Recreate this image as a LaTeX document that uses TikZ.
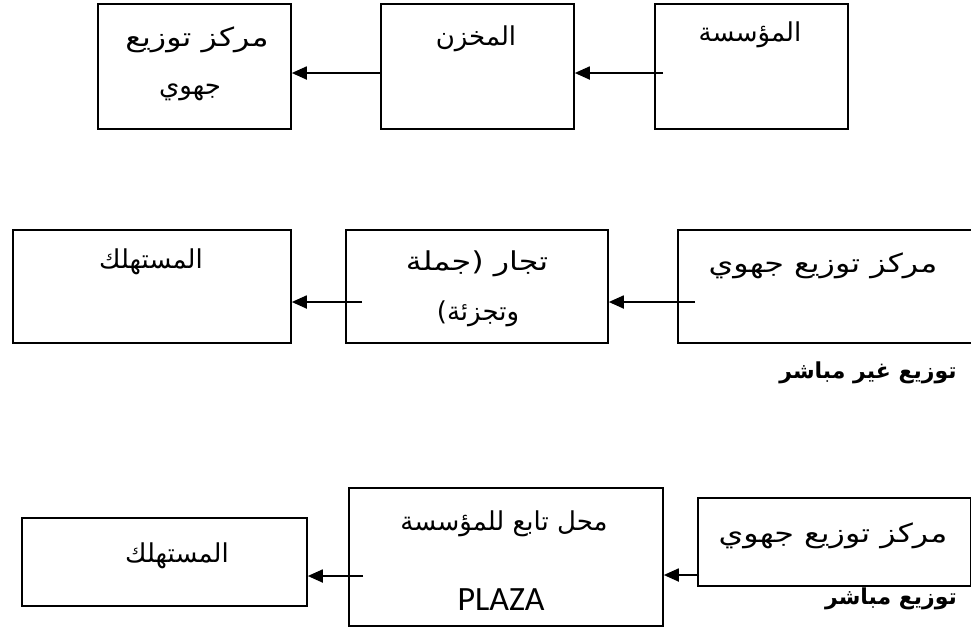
\documentclass[tikz,border=0pt]{standalone}
\usepackage{fontspec}
\usetikzlibrary{arrows.meta}
\TeXXeTstate=1
\setmainfont{Carlito}
\newfontfamily\arabicfont[Script=Arabic]{DejaVu Sans}
\newfontfamily\arabicwide[Script=Arabic,FakeStretch=1.22]{DejaVu Sans}
\tikzset{
  box/.style={draw, line width=1.8pt, inner sep=0pt, anchor=north west},
  ar/.style={font=\arabicfont\fontsize{26}{30}\selectfont, inner sep=0pt, anchor=base},
  arw/.style={font=\arabicwide\fontsize{26}{30}\selectfont, inner sep=0pt, anchor=base},
  lat/.style={font=\fontsize{34}{40}\selectfont, inner sep=0pt, anchor=base},
  lab/.style={font=\arabicfont\bfseries\fontsize{22}{26}\selectfont, inner sep=0pt, anchor=base},
  flow/.style={line width=1.8pt, -{Triangle[length=15pt,width=13pt]}},
}
\begin{document}
\begin{tikzpicture}[x=1pt,y=-1pt]
\useasboundingbox (0,0) rectangle (971,638);
% row 1
\node[box, minimum width=193pt, minimum height=125pt] (A) at (97,3) {};
\node[box, minimum width=193pt, minimum height=125pt] (B) at (380,3) {};
\node[box, minimum width=193pt, minimum height=125pt] (C) at (654,3) {};
\node[arw] (tA1) at (197,46) {\beginR مركز توزيع\endR};
\node[ar] (tA2) at (190,94) {\beginR جهوي\endR};
\node[ar] (tB) at (476,45) {\beginR المخزن\endR};
\node[ar] (tC) at (750,41) {\beginR المؤسسة\endR};
\coordinate (c1) at (663,73);
\coordinate (b1) at (380,73);
\draw[flow] (c1) -- (B.east |- c1);
\draw[flow] (b1) -- (A.east |- b1);
% row 2
\node[box, minimum width=278pt, minimum height=113pt] (D) at (12,229) {};
\node[box, minimum width=262pt, minimum height=113pt] (E) at (345,229) {};
\node[box, minimum width=294pt, minimum height=113pt] (F) at (677,229) {};
\node[ar] (tD) at (151,268) {\beginR المستهلك\endR};
\node[arw] (tE1) at (477,270) {\beginR تجار (جملة\endR};
\node[ar] (tE2) at (478,320) {\beginR وتجزئة)\endR};
\node[arw] (tF) at (823,272) {\beginR مركز توزيع جهوي\endR};
\node[lab] (L1) at (868,378) {\beginR توزيع غير مباشر\endR};
\coordinate (f2) at (695,302);
\coordinate (e2) at (362,302);
\draw[flow] (f2) -- (E.east |- f2);
\draw[flow] (e2) -- (D.east |- e2);
% row 3
\node[box, minimum width=285pt, minimum height=88pt] (G) at (21,517) {};
\node[box, minimum width=314pt, minimum height=138pt] (H) at (348,487) {};
\node[box, minimum width=273pt, minimum height=88pt] (I) at (697,497) {};
\node[ar] (tG) at (177,562) {\beginR المستهلك\endR};
\node[ar] (tH) at (504,530) {\beginR محل تابع للمؤسسة\endR};
\node[lat] (tH2) at (501,610) {PLAZA};
\node[arw] (tI) at (833,542) {\beginR مركز توزيع جهوي\endR};
\node[lab] (L2) at (891,604) {\beginR توزيع مباشر\endR};
\coordinate (i3) at (699,575);
\coordinate (h3) at (363,576);
\draw[flow] (i3) -- (H.east |- i3);
\draw[flow] (h3) -- (G.east |- h3);
\end{tikzpicture}
\end{document}
